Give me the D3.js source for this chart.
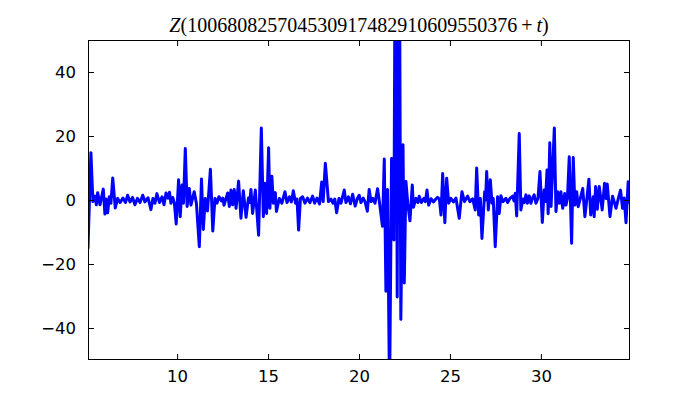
<!DOCTYPE html>
<html>
<head>
<meta charset="utf-8">
<script src="https://cdn.jsdelivr.net/npm/d3@7"></script>
<style>
  html, body { margin: 0; padding: 0; background: #fff; }
  svg { display: block; }
</style>
</head>
<body>
<svg id="chart" width="700" height="400"></svg>
<script>
// ---- data ----
const titleOffset = "100680825704530917482910609550376";
const xTicks = [10, 15, 20, 25, 30];
const yTicks = [-40, -20, 0, 20, 40];
const xDomain = [5.1, 34.9];
const yDomain = [-50, 50];

const tValues = [
  5.10, 5.26, 5.37, 5.48, 5.56, 5.63, 5.76, 5.94, 6.03, 6.10, 6.18, 6.27, 6.36, 6.46, 6.60, 6.73,
  6.86, 7.02, 7.16, 7.28, 7.41, 7.55, 7.68, 7.82, 7.96, 8.11, 8.23, 8.40, 8.56, 8.67, 8.78, 8.89,
  9.03, 9.17, 9.28, 9.39, 9.50, 9.58, 9.66, 9.76, 9.85, 9.95, 10.08, 10.17, 10.27, 10.35, 10.45,
  10.55, 10.67, 10.76, 10.94, 11.06, 11.22, 11.34, 11.44, 11.55, 11.67, 11.83, 11.96, 12.08, 12.19,
  12.30, 12.44, 12.51, 12.58, 12.78, 12.87, 12.96, 13.05, 13.14, 13.24, 13.38, 13.51, 13.64, 13.79,
  13.92, 13.99, 14.06, 14.15, 14.30, 14.48, 14.63, 14.74, 14.83, 14.92, 15.03, 15.10, 15.21, 15.29,
  15.40, 15.46, 15.62, 15.76, 15.93, 16.04, 16.18, 16.28, 16.39, 16.51, 16.59, 16.68, 16.78, 16.90,
  17.03, 17.17, 17.30, 17.45, 17.56, 17.69, 17.83, 17.95, 18.03, 18.15, 18.32, 18.46, 18.57, 18.67,
  18.77, 18.90, 19.01, 19.19, 19.28, 19.42, 19.53, 19.65, 19.79, 19.91, 20.01, 20.11, 20.23, 20.33,
  20.46, 20.56, 20.66, 20.77, 20.88, 21.02, 21.12, 21.29, 21.39, 21.48, 21.57, 21.68, 21.79, 21.92,
  21.99, 22.05, 22.10, 22.17, 22.22, 22.30, 22.42, 22.49, 22.58, 22.68, 22.80, 22.93, 22.99, 23.13,
  23.24, 23.31, 23.43, 23.57, 23.65, 23.74, 23.83, 23.96, 24.09, 24.23, 24.32, 24.42, 24.51, 24.60,
  24.72, 24.82, 24.93, 25.05, 25.19, 25.33, 25.51, 25.66, 25.80, 25.97, 26.10, 26.25, 26.39, 26.47,
  26.58, 26.67, 26.76, 26.91, 26.96, 27.02, 27.11, 27.22, 27.31, 27.38, 27.49, 27.62, 27.71, 27.80,
  27.91, 28.08, 28.17, 28.30, 28.45, 28.52, 28.59, 28.67, 28.81, 28.90, 29.01, 29.09, 29.18, 29.26,
  29.36, 29.45, 29.53, 29.63, 29.73, 29.84, 29.95, 30.08, 30.18, 30.25, 30.34, 30.40, 30.49, 30.56,
  30.74, 30.83, 30.92, 31.02, 31.10, 31.20, 31.31, 31.38, 31.46, 31.56, 31.69, 31.78, 31.87, 31.97,
  32.05, 32.17, 32.30, 32.42, 32.53, 32.64, 32.74, 32.88, 32.93, 33.01, 33.10, 33.21, 33.37, 33.50,
  33.58, 33.65, 33.80, 33.94, 34.03, 34.13, 34.26, 34.38, 34.49, 34.58, 34.68, 34.80, 34.90
];
const zValues = [
  -15.1, 14.8, -0.5, 1.2, -1.5, 2.3, -1.5, 3.4, -4.4, 0.3, -4.0, 1.0, -1.0, 6.9, -2.5, 0.5,
  -0.8, 0.6, -0.8, 1.5, -0.6, 0.8, -1.5, 0.5, -0.8, 1.5, -0.6, 0.7, -3.0, 0.5, -1.0, 2.0,
  -0.8, 1.0, -1.5, 2.2, 0.6, 2.4, -1.0, 0.8, -1.0, -7.5, 6.3, -5.2, 4.7, -1.0, 16.1,
  -2.0, 3.6, -1.6, 2.6, -1.0, -14.6, 6.6, -9.2, 0.5, -3.4, 9.6, -9.7, 0.5, -1.0,
  1.0, -0.3, 0.6, -1.6, 2.2, -2.0, 3.1, -1.5, 3.3, -2.6, 5.9, -5.7, 2.9, -5.4,
  0.6, -0.8, 3.3, -4.2, 3.1, -11.0, 22.5, -5.2, 5.2, -4.2, 16.3, -2.6, 7.4, -1.0,
  2.3, -3.6, 0.5, -1.0, 2.6, -0.8, 1.0, -0.6, 2.9, -1.0, 0.3, -9.4, 0.5, 1.0,
  -1.0, 0.6, -0.8, 1.2, -1.0, 0.6, -1.2, 5.6, -0.5, 11.5, -0.5, 0.3, -1.0, 0.3,
  -4.0, 0.5, -1.0, 3.1, -0.8, 1.0, -1.2, 1.8, -1.9, 0.5, 1.5, -0.8, 0.6, -0.5,
  -3.5, 3.3, -0.5, 0.5, -1.0, 3.5, -0.5, -8.2, 12.8, -28.5, 3.3, -62.0, 13.0, -12.5,
  85.0, 85.0, -30.3, 85.0, 85.0, -37.3, 17.3, -25.9, 5.8, -1.0, -6.5, 4.7, -2.3, 0.5,
  -0.8, 1.2, -0.8, 0.5, -0.5, 3.1, -1.6, 0.4, -0.6, 0.3, 0.8, 0.3, -4.7, 8.3,
  -7.1, 6.8, -1.0, 0.5, -0.6, 0.6, -5.7, 2.6, -0.5, 1.2, -0.5, 0.4, -3.1, 10.0,
  -4.7, 0.5, -12.0, 2.6, 0.0, 8.9, -3.1, 6.3, -1.0, 0.5, -14.6, 1.0, -4.2, 1.3,
  -0.5, 0.5, -0.8, 0.5, 1.2, -0.3, 2.1, -5.0, 20.8, -3.1, 0.3, -0.8, 1.6, -1.0,
  1.3, -1.0, 0.5, 1.6, -1.0, 0.5, 8.9, -7.0, 3.1, -0.5, 9.4, -4.3, 17.9, -2.0,
  22.5, -3.6, 2.6, -1.0, 2.6, -2.6, 2.0, -1.6, 0.5, 13.5, -13.5, 13.3, -1.6, 2.6,
  -2.1, 0.5, 3.6, -5.2, 0.5, 6.5, -4.7, 1.0, -5.2, 4.2, -2.9, 4.2, -3.1, 5.2,
  0.5, 5.0, -5.2, 1.2, -0.5, -2.6, 0.5, 3.1, -2.6, 0.6, -7.1, 5.7, -1.0
];

// ---- layout ----
const margin = { left: 88, top: 40, right: 70, bottom: 40 };
const W = 700, H = 400;
const plotW = W - margin.left - margin.right; // 542
const plotH = H - margin.top - margin.bottom; // 320

const svg = d3.select("#chart");
const x = d3.scaleLinear().domain(xDomain).range([margin.left, margin.left + plotW]);
const y = d3.scaleLinear().domain(yDomain).range([margin.top + plotH, margin.top]);

const data = tValues.map((t, i) => ({ t, z: zValues[i] }));

svg.append("defs").append("clipPath").attr("id", "clip")
  .append("rect").attr("x", margin.left).attr("y", margin.top)
  .attr("width", plotW).attr("height", plotH);

const line = d3.line().x(d => x(d.t)).y(d => y(d.z));
svg.append("path")
  .datum(data)
  .attr("clip-path", "url(#clip)")
  .attr("fill", "none")
  .attr("stroke", "#0000ff")
  .attr("stroke-width", 3)
  .attr("stroke-linejoin", "round")
  .attr("stroke-linecap", "round")
  .attr("d", line);

// axes (matplotlib classic style: inward ticks on all sides)
const tickLen = 6;
const fmt = d => (d < 0 ? "\u2212" + Math.abs(d) : String(d));
const fontTick = "DejaVu Sans, sans-serif";

const gBottom = svg.append("g").attr("transform", `translate(0,${margin.top + plotH})`)
  .call(d3.axisBottom(x).tickValues(xTicks).tickSizeInner(-tickLen).tickSizeOuter(0).tickPadding(10).tickFormat(fmt));
const gTop = svg.append("g").attr("transform", `translate(0,${margin.top})`)
  .call(d3.axisTop(x).tickValues(xTicks).tickSizeInner(-tickLen).tickSizeOuter(0).tickFormat(""));
const gLeft = svg.append("g").attr("transform", `translate(${margin.left},0)`)
  .call(d3.axisLeft(y).tickValues(yTicks).tickSizeInner(-tickLen).tickSizeOuter(0).tickPadding(12).tickFormat(fmt));
const gRight = svg.append("g").attr("transform", `translate(${margin.left + plotW},0)`)
  .call(d3.axisRight(y).tickValues(yTicks).tickSizeInner(-tickLen).tickSizeOuter(0).tickFormat(""));

[gBottom, gTop, gLeft, gRight].forEach(g => {
  g.select(".domain").remove();
  g.selectAll(".tick line").attr("stroke", "#000").attr("stroke-width", 1);
  g.selectAll(".tick text").attr("fill", "#000").attr("font-family", fontTick).attr("font-size", 16.5);
});

// frame
svg.append("rect")
  .attr("x", margin.left + 0.5).attr("y", margin.top + 0.5)
  .attr("width", plotW - 1).attr("height", plotH - 1)
  .attr("fill", "none").attr("stroke", "#000").attr("stroke-width", 1);

// title (mathtext-like)
const title = svg.append("text")
  .attr("x", margin.left + plotW / 2).attr("y", 32)
  .attr("text-anchor", "middle")
  .attr("font-family", "Liberation Serif, DejaVu Serif, serif")
  .attr("font-size", 20)
  .attr("fill", "#000");
title.append("tspan").attr("font-style", "italic").text("Z");
title.append("tspan").text("(" + titleOffset);
title.append("tspan").attr("dx", 4).text("+");
title.append("tspan").attr("dx", 4).attr("font-style", "italic").text("t");
title.append("tspan").text(")");
</script>
</body>
</html>
